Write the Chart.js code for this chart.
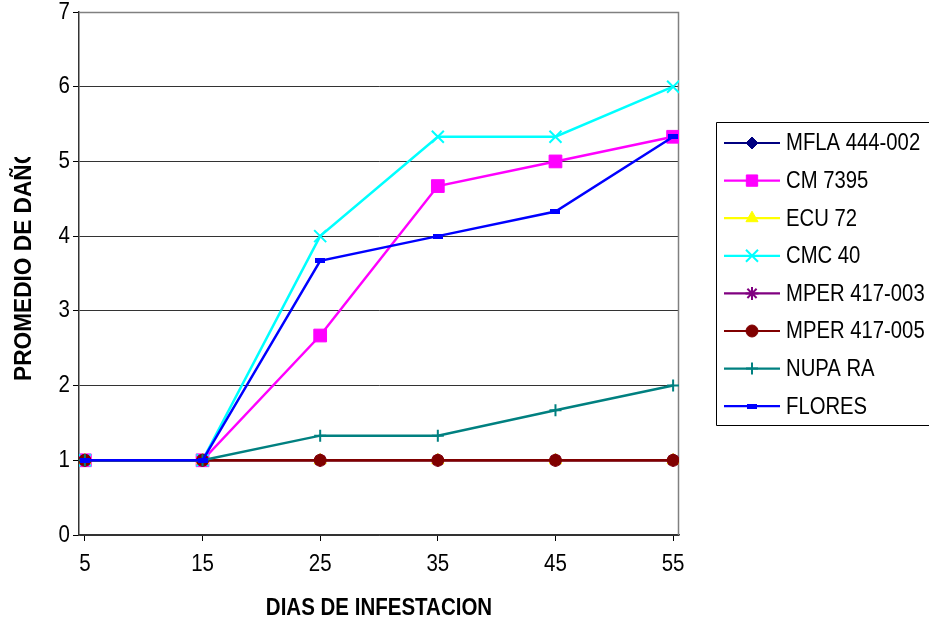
<!DOCTYPE html>
<html>
<head>
<meta charset="utf-8">
<script src="https://cdn.jsdelivr.net/npm/chart.js@4.4.1/dist/chart.umd.min.js"></script>
<style>
  html, body { margin: 0; padding: 0; background: #fff; }
  #wrap { width: 929px; height: 618px; position: relative; }
</style>
</head>
<body>
<div id="wrap"><canvas id="c" width="929" height="618"></canvas></div>
<script>
// Days after infestation and average damage score per variety
const days = [5, 15, 25, 35, 45, 55];
const yTicks = [0, 1, 2, 3, 4, 5, 6, 7];

const mfla444002 = [1, 1, 1, 1, 1, 1];
const cm7395     = [1, 1, 2.67, 4.67, 5, 5.33];
const ecu72      = [1, 1, 1, 1, 1, 1];
const cmc40      = [1, 1, 4, 5.33, 5.33, 6];
const mper417003 = [1, 1, 1, 1, 1, 1];
const mper417005 = [1, 1, 1, 1, 1, 1];
const nupara     = [1, 1, 1.33, 1.33, 1.67, 2];
const flores     = [1, 1, 3.67, 4, 4.33, 5.33];

const seriesNames = ['MFLA 444-002', 'CM 7395', 'ECU 72', 'CMC 40',
                     'MPER 417-003', 'MPER 417-005', 'NUPA RA', 'FLORES'];

// Small flat rectangle marker for FLORES
const flatRect = document.createElement('canvas');
flatRect.width = 10; flatRect.height = 5;
(function () {
  const g = flatRect.getContext('2d');
  g.fillStyle = '#0000FF';
  g.fillRect(0, 0, 10, 5);
})();

const styles = [
  { color: '#000080', point: 'rectRot', radius: 6, bw: 1 },
  { color: '#FF00FF', point: 'rect', radius: 9, bw: 1 },
  { color: '#FFFF00', point: 'triangle', radius: 7, bw: 1 },
  { color: '#00FFFF', point: 'crossRot', radius: 8.5, bw: 2 },
  { color: '#800080', point: 'star', radius: 6.5, bw: 2 },
  { color: '#800000', point: 'circle', radius: 6, bw: 1 },
  { color: '#008080', point: 'cross', radius: 6, bw: 2 },
  { color: '#0000FF', point: flatRect, radius: 5, bw: 1 }
];

const values = [mfla444002, cm7395, ecu72, cmc40, mper417003, mper417005, nupara, flores];

const datasets = values.map((vals, i) => ({
  label: seriesNames[i],
  data: days.map((d, k) => ({ x: d, y: vals[k] })),
  borderColor: styles[i].color,
  backgroundColor: styles[i].color,
  pointBackgroundColor: styles[i].color,
  pointBorderColor: styles[i].color,
  pointStyle: styles[i].point,
  pointRadius: styles[i].radius,
  pointHoverRadius: styles[i].radius,
  pointBorderWidth: styles[i].bw,
  borderWidth: 2.5,
  tension: 0,
  order: values.length - i
}));

const FONT = '"Liberation Sans", Arial, sans-serif';
const TEXT_STRETCH = 1.15;   // glyphs are drawn slightly taller than wide

function drawText(ctx, s, x, y, size, bold, align, sx, sy) {
  ctx.save();
  ctx.translate(x, y);
  ctx.scale(sx, sy);
  ctx.font = (bold ? 'bold ' : '') + size + 'px ' + FONT;
  ctx.fillStyle = '#000';
  ctx.textAlign = align;
  ctx.textBaseline = 'middle';
  ctx.fillText(s, 0, 0);
  ctx.restore();
}

// Plot frame, tick labels, axis titles and the boxed legend
const decor = {
  id: 'decor',
  beforeDatasetsDraw(chart) {
    const { ctx, chartArea: a } = chart;
    ctx.save();
    ctx.strokeStyle = '#808080';
    ctx.lineWidth = 1.5;
    ctx.beginPath();
    ctx.moveTo(a.left, a.top + 0.5);
    ctx.lineTo(a.right - 0.5, a.top + 0.5);
    ctx.lineTo(a.right - 0.5, a.bottom);
    ctx.stroke();
    ctx.restore();
  },
  afterDraw(chart) {
    const { ctx, chartArea: a } = chart;
    const xs = chart.scales.x, ys = chart.scales.y;

    // tick labels
    xs.ticks.forEach(t => {
      drawText(ctx, String(t.value), xs.getPixelForValue(t.value), 564, 20.5, false, 'center', 1, TEXT_STRETCH);
    });
    ys.ticks.forEach(t => {
      drawText(ctx, String(t.value), 70, ys.getPixelForValue(t.value), 20.5, false, 'right', 1, TEXT_STRETCH);
    });

    // x axis title
    drawText(ctx, 'DIAS DE INFESTACION', (a.left + a.right) / 2, 608, 20.5, true, 'center', 1, TEXT_STRETCH);

    // y axis title (cut off at its top end)
    ctx.save();
    ctx.beginPath();
    ctx.rect(0, 157, 60, 300);
    ctx.clip();
    ctx.translate(25, 381);
    ctx.rotate(-Math.PI / 2);
    drawText(ctx, 'PROMEDIO DE DAÑO', 0, 0, 21, true, 'left', 1.08, 1.1);
    ctx.restore();

    // legend
    ctx.save();
    const lx = 716.5, ly = 122.5, lb = 425.5;
    ctx.strokeStyle = '#000';
    ctx.lineWidth = 1;
    ctx.beginPath();
    ctx.moveTo(935, ly);
    ctx.lineTo(lx, ly);
    ctx.lineTo(lx, lb);
    ctx.lineTo(935, lb);
    ctx.stroke();

    const rowY0 = 143, rowStep = 37.6;
    chart.data.datasets.forEach((ds, i) => {
      const y = rowY0 + i * rowStep;
      ctx.strokeStyle = ds.borderColor;
      ctx.lineWidth = 2.2;
      ctx.beginPath();
      ctx.moveTo(724, y);
      ctx.lineTo(780, y);
      ctx.stroke();
      ctx.fillStyle = ds.pointBackgroundColor;
      ctx.strokeStyle = ds.pointBorderColor;
      ctx.lineWidth = ds.pointBorderWidth;
      Chart.helpers.drawPoint(ctx, {
        pointStyle: ds.pointStyle,
        radius: ds.pointStyle === 'rect' ? 8 : ds.pointRadius,
        rotation: 0,
        borderWidth: ds.pointBorderWidth
      }, 752, y);
      drawText(ctx, ds.label, 786, y + 1, 20.3, false, 'left', 1, TEXT_STRETCH);
    });
    ctx.restore();
  }
};

new Chart(document.getElementById('c'), {
  type: 'line',
  data: { datasets },
  options: {
    responsive: false,
    animation: false,
    events: [],
    layout: { padding: { left: 0, right: 250, top: 12, bottom: 0 } },
    plugins: { legend: { display: false }, tooltip: { enabled: false } },
    scales: {
      x: {
        type: 'linear',
        min: 4.5,
        max: 55.5,
        afterBuildTicks(axis) { axis.ticks = days.map(v => ({ value: v })); },
        afterFit(axis) { axis.height = 83; },
        grid: { drawOnChartArea: false, tickLength: 6, color: '#000', tickColor: '#000' },
        border: { color: '#333', width: 1.5 },
        ticks: { display: false }
      },
      y: {
        min: 0,
        max: 7,
        afterBuildTicks(axis) { axis.ticks = yTicks.map(v => ({ value: v })); },
        afterFit(axis) { axis.width = 79; },
        grid: {
          color: ctx => (ctx.tick && ctx.tick.value === 7) ? '#808080' : '#333',
          tickColor: '#000',
          tickLength: 6,
          lineWidth: 1
        },
        border: { color: '#333', width: 1.5 },
        ticks: { display: false }
      }
    }
  },
  plugins: [decor]
});
</script>
</body>
</html>
